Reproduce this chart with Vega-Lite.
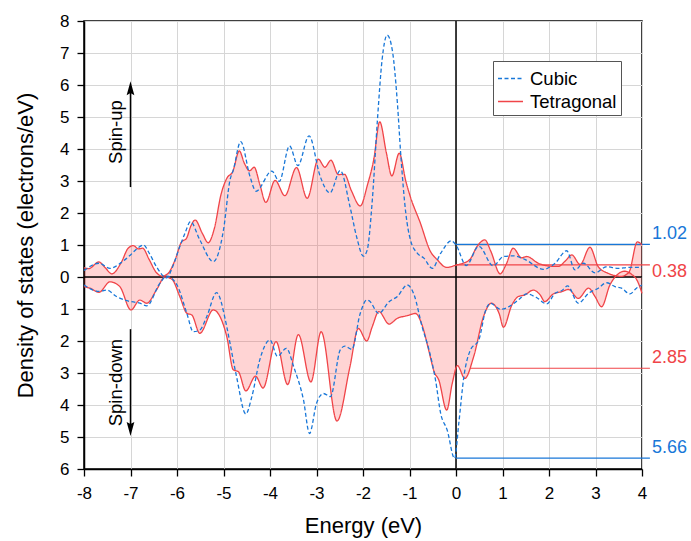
{
  "$schema": "https://vega.github.io/schema/vega-lite/v6.json",
  "width": 558,
  "height": 448,
  "autosize": {"type": "none"},
  "padding": {"left": 84, "top": 21, "right": 49, "bottom": 72},
  "background": "white",
  "config": {
    "font": "Liberation Sans",
    "view": {"stroke": "black", "strokeWidth": 1.5},
    "axis": {
      "labelFont": "Liberation Sans",
      "titleFont": "Liberation Sans",
      "labelFontSize": 17,
      "titleFontSize": 22,
      "titleFontWeight": "normal",
      "labelColor": "black",
      "titleColor": "black",
      "tickColor": "black",
      "tickSize": 7,
      "tickWidth": 1.3,
      "domainColor": "black",
      "domainWidth": 1.5,
      "gridColor": "#d6d6d6",
      "gridWidth": 1,
      "labelFlush": false,
      "labelOverlap": false
    },
    "legend": {
      "symbolType": "stroke",
      "symbolSize": 625,
      "symbolStrokeWidth": 1.3,
      "labelFont": "Liberation Sans",
      "labelFontSize": 18.5,
      "labelColor": "black",
      "strokeColor": "#555555",
      "fillColor": "white",
      "padding": 4,
      "rowPadding": 0,
      "labelOffset": 6
    }
  },
  "datasets": {
    "dos": [
      {"e":-8,"v":0.29,"s":"Tetragonal","spin":"up"},{"e":-7.9,"v":0.26,"s":"Tetragonal","spin":"up"},{"e":-7.68,"v":0.47,"s":"Tetragonal","spin":"up"},{"e":-7.55,"v":0.3,"s":"Tetragonal","spin":"up"},{"e":-7.4,"v":0.1,"s":"Tetragonal","spin":"up"},{"e":-7.2,"v":0.45,"s":"Tetragonal","spin":"up"},{"e":-7.05,"v":0.9,"s":"Tetragonal","spin":"up"},{"e":-6.94,"v":0.98,"s":"Tetragonal","spin":"up"},{"e":-6.83,"v":0.88,"s":"Tetragonal","spin":"up"},{"e":-6.74,"v":0.9,"s":"Tetragonal","spin":"up"},{"e":-6.6,"v":0.55,"s":"Tetragonal","spin":"up"},{"e":-6.45,"v":0.15,"s":"Tetragonal","spin":"up"},{"e":-6.32,"v":0.03,"s":"Tetragonal","spin":"up"},{"e":-6.2,"v":0.1,"s":"Tetragonal","spin":"up"},{"e":-6.05,"v":0.5,"s":"Tetragonal","spin":"up"},{"e":-5.9,"v":1.1,"s":"Tetragonal","spin":"up"},{"e":-5.8,"v":1.2,"s":"Tetragonal","spin":"up"},{"e":-5.7,"v":1.6,"s":"Tetragonal","spin":"up"},{"e":-5.61,"v":1.78,"s":"Tetragonal","spin":"up"},{"e":-5.45,"v":1.35,"s":"Tetragonal","spin":"up"},{"e":-5.33,"v":1.07,"s":"Tetragonal","spin":"up"},{"e":-5.2,"v":1.5,"s":"Tetragonal","spin":"up"},{"e":-5.05,"v":2.6,"s":"Tetragonal","spin":"up"},{"e":-4.93,"v":3.08,"s":"Tetragonal","spin":"up"},{"e":-4.8,"v":3.3,"s":"Tetragonal","spin":"up"},{"e":-4.66,"v":3.94,"s":"Tetragonal","spin":"up"},{"e":-4.55,"v":3.55,"s":"Tetragonal","spin":"up"},{"e":-4.44,"v":3.32,"s":"Tetragonal","spin":"up"},{"e":-4.34,"v":3.43,"s":"Tetragonal","spin":"up"},{"e":-4.22,"v":2.9,"s":"Tetragonal","spin":"up"},{"e":-4.09,"v":2.33,"s":"Tetragonal","spin":"up"},{"e":-3.89,"v":3.02,"s":"Tetragonal","spin":"up"},{"e":-3.68,"v":2.54,"s":"Tetragonal","spin":"up"},{"e":-3.43,"v":3.42,"s":"Tetragonal","spin":"up"},{"e":-3.2,"v":2.46,"s":"Tetragonal","spin":"up"},{"e":-2.96,"v":3.68,"s":"Tetragonal","spin":"up"},{"e":-2.82,"v":3.43,"s":"Tetragonal","spin":"up"},{"e":-2.69,"v":3.65,"s":"Tetragonal","spin":"up"},{"e":-2.53,"v":3.2,"s":"Tetragonal","spin":"up"},{"e":-2.4,"v":3.21,"s":"Tetragonal","spin":"up"},{"e":-2.25,"v":2.7,"s":"Tetragonal","spin":"up"},{"e":-2.06,"v":2.22,"s":"Tetragonal","spin":"up"},{"e":-1.9,"v":2.9,"s":"Tetragonal","spin":"up"},{"e":-1.77,"v":3.66,"s":"Tetragonal","spin":"up"},{"e":-1.64,"v":4.85,"s":"Tetragonal","spin":"up"},{"e":-1.5,"v":3.9,"s":"Tetragonal","spin":"up"},{"e":-1.38,"v":3.16,"s":"Tetragonal","spin":"up"},{"e":-1.22,"v":3.87,"s":"Tetragonal","spin":"up"},{"e":-1.08,"v":3.0,"s":"Tetragonal","spin":"up"},{"e":-0.98,"v":2.5,"s":"Tetragonal","spin":"up"},{"e":-0.77,"v":1.7,"s":"Tetragonal","spin":"up"},{"e":-0.55,"v":0.8,"s":"Tetragonal","spin":"up"},{"e":-0.41,"v":0.55,"s":"Tetragonal","spin":"up"},{"e":-0.2,"v":0.3,"s":"Tetragonal","spin":"up"},{"e":0,"v":0.37,"s":"Tetragonal","spin":"up"},{"e":0.13,"v":0.42,"s":"Tetragonal","spin":"up"},{"e":0.3,"v":0.55,"s":"Tetragonal","spin":"up"},{"e":0.45,"v":0.95,"s":"Tetragonal","spin":"up"},{"e":0.62,"v":1.16,"s":"Tetragonal","spin":"up"},{"e":0.75,"v":0.8,"s":"Tetragonal","spin":"up"},{"e":0.95,"v":0.1,"s":"Tetragonal","spin":"up"},{"e":1.08,"v":0.4,"s":"Tetragonal","spin":"up"},{"e":1.23,"v":0.9,"s":"Tetragonal","spin":"up"},{"e":1.41,"v":0.6,"s":"Tetragonal","spin":"up"},{"e":1.52,"v":0.64,"s":"Tetragonal","spin":"up"},{"e":1.77,"v":0.43,"s":"Tetragonal","spin":"up"},{"e":2.02,"v":0.34,"s":"Tetragonal","spin":"up"},{"e":2.2,"v":0.33,"s":"Tetragonal","spin":"up"},{"e":2.35,"v":0.5,"s":"Tetragonal","spin":"up"},{"e":2.49,"v":0.69,"s":"Tetragonal","spin":"up"},{"e":2.67,"v":0.39,"s":"Tetragonal","spin":"up"},{"e":2.88,"v":0.93,"s":"Tetragonal","spin":"up"},{"e":3.06,"v":0.32,"s":"Tetragonal","spin":"up"},{"e":3.28,"v":0.11,"s":"Tetragonal","spin":"up"},{"e":3.55,"v":0.02,"s":"Tetragonal","spin":"up"},{"e":3.72,"v":0.15,"s":"Tetragonal","spin":"up"},{"e":3.9,"v":1.1,"s":"Tetragonal","spin":"up"},{"e":4,"v":1.0,"s":"Tetragonal","spin":"up"},

      {"e":-8,"v":-0.3,"s":"Tetragonal","spin":"down"},{"e":-7.87,"v":-0.35,"s":"Tetragonal","spin":"down"},{"e":-7.68,"v":-0.48,"s":"Tetragonal","spin":"down"},{"e":-7.44,"v":-0.15,"s":"Tetragonal","spin":"down"},{"e":-7.23,"v":-0.3,"s":"Tetragonal","spin":"down"},{"e":-6.99,"v":-1.03,"s":"Tetragonal","spin":"down"},{"e":-6.8,"v":-0.72,"s":"Tetragonal","spin":"down"},{"e":-6.65,"v":-0.82,"s":"Tetragonal","spin":"down"},{"e":-6.44,"v":-0.4,"s":"Tetragonal","spin":"down"},{"e":-6.26,"v":0.0,"s":"Tetragonal","spin":"down"},{"e":-6.11,"v":-0.07,"s":"Tetragonal","spin":"down"},{"e":-5.94,"v":-0.61,"s":"Tetragonal","spin":"down"},{"e":-5.79,"v":-1.13,"s":"Tetragonal","spin":"down"},{"e":-5.68,"v":-1.19,"s":"Tetragonal","spin":"down"},{"e":-5.51,"v":-1.76,"s":"Tetragonal","spin":"down"},{"e":-5.22,"v":-1.03,"s":"Tetragonal","spin":"down"},{"e":-4.93,"v":-1.86,"s":"Tetragonal","spin":"down"},{"e":-4.79,"v":-2.9,"s":"Tetragonal","spin":"down"},{"e":-4.68,"v":-2.96,"s":"Tetragonal","spin":"down"},{"e":-4.52,"v":-3.56,"s":"Tetragonal","spin":"down"},{"e":-4.31,"v":-3.1,"s":"Tetragonal","spin":"down"},{"e":-4.15,"v":-3.47,"s":"Tetragonal","spin":"down"},{"e":-3.87,"v":-2.02,"s":"Tetragonal","spin":"down"},{"e":-3.62,"v":-3.36,"s":"Tetragonal","spin":"down"},{"e":-3.39,"v":-1.8,"s":"Tetragonal","spin":"down"},{"e":-3.12,"v":-3.28,"s":"Tetragonal","spin":"down"},{"e":-2.9,"v":-1.71,"s":"Tetragonal","spin":"down"},{"e":-2.56,"v":-4.5,"s":"Tetragonal","spin":"down"},{"e":-2.28,"v":-2.8,"s":"Tetragonal","spin":"down"},{"e":-2.1,"v":-1.61,"s":"Tetragonal","spin":"down"},{"e":-1.92,"v":-2.0,"s":"Tetragonal","spin":"down"},{"e":-1.8,"v":-1.55,"s":"Tetragonal","spin":"down"},{"e":-1.66,"v":-1.08,"s":"Tetragonal","spin":"down"},{"e":-1.44,"v":-1.47,"s":"Tetragonal","spin":"down"},{"e":-1.26,"v":-1.29,"s":"Tetragonal","spin":"down"},{"e":-1.05,"v":-1.21,"s":"Tetragonal","spin":"down"},{"e":-0.87,"v":-1.14,"s":"Tetragonal","spin":"down"},{"e":-0.73,"v":-1.5,"s":"Tetragonal","spin":"down"},{"e":-0.58,"v":-2.33,"s":"Tetragonal","spin":"down"},{"e":-0.47,"v":-2.96,"s":"Tetragonal","spin":"down"},{"e":-0.37,"v":-3.22,"s":"Tetragonal","spin":"down"},{"e":-0.2,"v":-4.16,"s":"Tetragonal","spin":"down"},{"e":-0.08,"v":-3.32,"s":"Tetragonal","spin":"down"},{"e":0.03,"v":-2.77,"s":"Tetragonal","spin":"down"},{"e":0.19,"v":-3.17,"s":"Tetragonal","spin":"down"},{"e":0.38,"v":-2.49,"s":"Tetragonal","spin":"down"},{"e":0.6,"v":-1.2,"s":"Tetragonal","spin":"down"},{"e":0.76,"v":-0.82,"s":"Tetragonal","spin":"down"},{"e":0.93,"v":-1.15,"s":"Tetragonal","spin":"down"},{"e":1.02,"v":-1.57,"s":"Tetragonal","spin":"down"},{"e":1.2,"v":-0.88,"s":"Tetragonal","spin":"down"},{"e":1.34,"v":-0.61,"s":"Tetragonal","spin":"down"},{"e":1.48,"v":-0.56,"s":"Tetragonal","spin":"down"},{"e":1.66,"v":-0.41,"s":"Tetragonal","spin":"down"},{"e":1.81,"v":-0.56,"s":"Tetragonal","spin":"down"},{"e":1.91,"v":-0.77,"s":"Tetragonal","spin":"down"},{"e":2.09,"v":-0.53,"s":"Tetragonal","spin":"down"},{"e":2.27,"v":-0.46,"s":"Tetragonal","spin":"down"},{"e":2.42,"v":-0.39,"s":"Tetragonal","spin":"down"},{"e":2.63,"v":-0.67,"s":"Tetragonal","spin":"down"},{"e":2.85,"v":-0.35,"s":"Tetragonal","spin":"down"},{"e":2.99,"v":-0.61,"s":"Tetragonal","spin":"down"},{"e":3.13,"v":-0.93,"s":"Tetragonal","spin":"down"},{"e":3.31,"v":-0.25,"s":"Tetragonal","spin":"down"},{"e":3.49,"v":0.1,"s":"Tetragonal","spin":"down"},{"e":3.62,"v":0.18,"s":"Tetragonal","spin":"down"},{"e":3.78,"v":0.08,"s":"Tetragonal","spin":"down"},{"e":3.9,"v":-0.12,"s":"Tetragonal","spin":"down"},{"e":4,"v":-0.51,"s":"Tetragonal","spin":"down"},

      {"e":-8,"v":0.2,"s":"Cubic","spin":"up"},{"e":-7.68,"v":0.43,"s":"Cubic","spin":"up"},{"e":-7.44,"v":0.27,"s":"Cubic","spin":"up"},{"e":-7.2,"v":0.45,"s":"Cubic","spin":"up"},{"e":-7.0,"v":0.69,"s":"Cubic","spin":"up"},{"e":-6.85,"v":0.9,"s":"Cubic","spin":"up"},{"e":-6.72,"v":1.0,"s":"Cubic","spin":"up"},{"e":-6.6,"v":0.75,"s":"Cubic","spin":"up"},{"e":-6.44,"v":0.32,"s":"Cubic","spin":"up"},{"e":-6.22,"v":-0.03,"s":"Cubic","spin":"up"},{"e":-6.1,"v":0.3,"s":"Cubic","spin":"up"},{"e":-5.94,"v":0.95,"s":"Cubic","spin":"up"},{"e":-5.83,"v":1.36,"s":"Cubic","spin":"up"},{"e":-5.71,"v":1.73,"s":"Cubic","spin":"up"},{"e":-5.51,"v":1.16,"s":"Cubic","spin":"up"},{"e":-5.22,"v":0.48,"s":"Cubic","spin":"up"},{"e":-5.0,"v":1.47,"s":"Cubic","spin":"up"},{"e":-4.86,"v":3.03,"s":"Cubic","spin":"up"},{"e":-4.79,"v":3.34,"s":"Cubic","spin":"up"},{"e":-4.63,"v":4.23,"s":"Cubic","spin":"up"},{"e":-4.43,"v":3.14,"s":"Cubic","spin":"up"},{"e":-4.3,"v":2.68,"s":"Cubic","spin":"up"},{"e":-3.96,"v":3.31,"s":"Cubic","spin":"up"},{"e":-3.8,"v":2.99,"s":"Cubic","spin":"up"},{"e":-3.58,"v":4.1,"s":"Cubic","spin":"up"},{"e":-3.4,"v":3.48,"s":"Cubic","spin":"up"},{"e":-3.16,"v":4.41,"s":"Cubic","spin":"up"},{"e":-2.92,"v":3.14,"s":"Cubic","spin":"up"},{"e":-2.71,"v":2.63,"s":"Cubic","spin":"up"},{"e":-2.49,"v":3.33,"s":"Cubic","spin":"up"},{"e":-2.28,"v":2.2,"s":"Cubic","spin":"up"},{"e":-2.14,"v":1.27,"s":"Cubic","spin":"up"},{"e":-1.99,"v":0.65,"s":"Cubic","spin":"up"},{"e":-1.91,"v":0.84,"s":"Cubic","spin":"up"},{"e":-1.8,"v":2.4,"s":"Cubic","spin":"up"},{"e":-1.69,"v":4.9,"s":"Cubic","spin":"up"},{"e":-1.59,"v":6.78,"s":"Cubic","spin":"up"},{"e":-1.48,"v":7.56,"s":"Cubic","spin":"up"},{"e":-1.37,"v":7.09,"s":"Cubic","spin":"up"},{"e":-1.26,"v":5.43,"s":"Cubic","spin":"up"},{"e":-1.19,"v":3.87,"s":"Cubic","spin":"up"},{"e":-1.08,"v":2.0,"s":"Cubic","spin":"up"},{"e":-0.98,"v":1.16,"s":"Cubic","spin":"up"},{"e":-0.83,"v":0.74,"s":"Cubic","spin":"up"},{"e":-0.69,"v":0.59,"s":"Cubic","spin":"up"},{"e":-0.51,"v":0.27,"s":"Cubic","spin":"up"},{"e":-0.33,"v":0.74,"s":"Cubic","spin":"up"},{"e":-0.1,"v":1.13,"s":"Cubic","spin":"up"},{"e":0,"v":1.0,"s":"Cubic","spin":"up"},{"e":0.22,"v":0.36,"s":"Cubic","spin":"up"},{"e":0.49,"v":0.96,"s":"Cubic","spin":"up"},{"e":0.8,"v":0.35,"s":"Cubic","spin":"up"},{"e":1.02,"v":0.64,"s":"Cubic","spin":"up"},{"e":1.23,"v":0.66,"s":"Cubic","spin":"up"},{"e":1.48,"v":0.55,"s":"Cubic","spin":"up"},{"e":1.88,"v":0.24,"s":"Cubic","spin":"up"},{"e":2.13,"v":0.43,"s":"Cubic","spin":"up"},{"e":2.38,"v":0.82,"s":"Cubic","spin":"up"},{"e":2.56,"v":0.22,"s":"Cubic","spin":"up"},{"e":2.74,"v":0.43,"s":"Cubic","spin":"up"},{"e":2.99,"v":0.13,"s":"Cubic","spin":"up"},{"e":3.24,"v":0.32,"s":"Cubic","spin":"up"},{"e":3.49,"v":0.27,"s":"Cubic","spin":"up"},{"e":3.71,"v":0.3,"s":"Cubic","spin":"up"},{"e":4,"v":0.3,"s":"Cubic","spin":"up"},

      {"e":-8,"v":-0.25,"s":"Cubic","spin":"down"},{"e":-7.8,"v":-0.41,"s":"Cubic","spin":"down"},{"e":-7.68,"v":-0.45,"s":"Cubic","spin":"down"},{"e":-7.51,"v":-0.41,"s":"Cubic","spin":"down"},{"e":-7.3,"v":-0.61,"s":"Cubic","spin":"down"},{"e":-7.08,"v":-0.74,"s":"Cubic","spin":"down"},{"e":-6.8,"v":-0.82,"s":"Cubic","spin":"down"},{"e":-6.65,"v":-0.9,"s":"Cubic","spin":"down"},{"e":-6.37,"v":-0.2,"s":"Cubic","spin":"down"},{"e":-6.22,"v":0.03,"s":"Cubic","spin":"down"},{"e":-6.0,"v":-0.25,"s":"Cubic","spin":"down"},{"e":-5.79,"v":-1.13,"s":"Cubic","spin":"down"},{"e":-5.65,"v":-1.71,"s":"Cubic","spin":"down"},{"e":-5.51,"v":-1.66,"s":"Cubic","spin":"down"},{"e":-5.36,"v":-1.24,"s":"Cubic","spin":"down"},{"e":-5.15,"v":-0.49,"s":"Cubic","spin":"down"},{"e":-4.93,"v":-1.55,"s":"Cubic","spin":"down"},{"e":-4.86,"v":-2.07,"s":"Cubic","spin":"down"},{"e":-4.72,"v":-3.11,"s":"Cubic","spin":"down"},{"e":-4.52,"v":-4.28,"s":"Cubic","spin":"down"},{"e":-4.39,"v":-3.74,"s":"Cubic","spin":"down"},{"e":-4.22,"v":-2.59,"s":"Cubic","spin":"down"},{"e":-4.0,"v":-1.97,"s":"Cubic","spin":"down"},{"e":-3.84,"v":-2.48,"s":"Cubic","spin":"down"},{"e":-3.65,"v":-2.23,"s":"Cubic","spin":"down"},{"e":-3.48,"v":-2.85,"s":"Cubic","spin":"down"},{"e":-3.28,"v":-3.84,"s":"Cubic","spin":"down"},{"e":-3.15,"v":-4.89,"s":"Cubic","spin":"down"},{"e":-3.0,"v":-3.95,"s":"Cubic","spin":"down"},{"e":-2.85,"v":-3.64,"s":"Cubic","spin":"down"},{"e":-2.7,"v":-3.74,"s":"Cubic","spin":"down"},{"e":-2.49,"v":-2.28,"s":"Cubic","spin":"down"},{"e":-2.39,"v":-2.16,"s":"Cubic","spin":"down"},{"e":-2.24,"v":-2.26,"s":"Cubic","spin":"down"},{"e":-2.06,"v":-1.14,"s":"Cubic","spin":"down"},{"e":-1.92,"v":-0.72,"s":"Cubic","spin":"down"},{"e":-1.87,"v":-0.74,"s":"Cubic","spin":"down"},{"e":-1.66,"v":-1.14,"s":"Cubic","spin":"down"},{"e":-1.44,"v":-0.77,"s":"Cubic","spin":"down"},{"e":-1.26,"v":-0.61,"s":"Cubic","spin":"down"},{"e":-1.05,"v":-0.25,"s":"Cubic","spin":"down"},{"e":-0.9,"v":-0.56,"s":"Cubic","spin":"down"},{"e":-0.73,"v":-1.55,"s":"Cubic","spin":"down"},{"e":-0.58,"v":-2.28,"s":"Cubic","spin":"down"},{"e":-0.44,"v":-3.22,"s":"Cubic","spin":"down"},{"e":-0.33,"v":-4.26,"s":"Cubic","spin":"down"},{"e":-0.19,"v":-4.78,"s":"Cubic","spin":"down"},{"e":-0.03,"v":-5.67,"s":"Cubic","spin":"down"},{"e":0.06,"v":-4.57,"s":"Cubic","spin":"down"},{"e":0.17,"v":-3.11,"s":"Cubic","spin":"down"},{"e":0.31,"v":-2.28,"s":"Cubic","spin":"down"},{"e":0.49,"v":-1.97,"s":"Cubic","spin":"down"},{"e":0.64,"v":-1.03,"s":"Cubic","spin":"down"},{"e":0.74,"v":-0.82,"s":"Cubic","spin":"down"},{"e":0.96,"v":-1.01,"s":"Cubic","spin":"down"},{"e":1.16,"v":-0.91,"s":"Cubic","spin":"down"},{"e":1.34,"v":-0.72,"s":"Cubic","spin":"down"},{"e":1.52,"v":-0.53,"s":"Cubic","spin":"down"},{"e":1.73,"v":-0.64,"s":"Cubic","spin":"down"},{"e":1.95,"v":-0.84,"s":"Cubic","spin":"down"},{"e":2.13,"v":-0.51,"s":"Cubic","spin":"down"},{"e":2.27,"v":-0.43,"s":"Cubic","spin":"down"},{"e":2.4,"v":-0.28,"s":"Cubic","spin":"down"},{"e":2.63,"v":-0.82,"s":"Cubic","spin":"down"},{"e":2.85,"v":-0.51,"s":"Cubic","spin":"down"},{"e":3.06,"v":-0.35,"s":"Cubic","spin":"down"},{"e":3.24,"v":-0.18,"s":"Cubic","spin":"down"},{"e":3.42,"v":-0.3,"s":"Cubic","spin":"down"},{"e":3.56,"v":-0.35,"s":"Cubic","spin":"down"},{"e":3.74,"v":-0.53,"s":"Cubic","spin":"down"},{"e":3.88,"v":-0.35,"s":"Cubic","spin":"down"},{"e":4,"v":-0.25,"s":"Cubic","spin":"down"}
    ],
    "refs": [
      {"e":0,"e2":4.17,"v":1.02,"s":"Cubic","label":"1.02","side":"above"},
      {"e":0,"e2":4.17,"v":0.38,"s":"Tetragonal","label":"0.38","side":"below"},
      {"e":0.3,"e2":4.17,"v":-2.85,"s":"Tetragonal","label":"2.85","side":"above"},
      {"e":0,"e2":4.17,"v":-5.66,"s":"Cubic","label":"5.66","side":"above"}
    ],
    "arrows": [
      {"e":-7,"v":2.81,"v2":5.9,"dir":"up"},
      {"e":-7,"v":-1.63,"v2":-4.75,"dir":"down"}
    ],
    "spinText": [
      {"e":-7.32,"v":4.53,"label":"Spin-up"},
      {"e":-7.32,"v":-3.3,"label":"Spin-down"}
    ]
  },
  "layer": [
    {
      "data": {"name": "dos"},
      "transform": [{"filter": "datum.s == 'Tetragonal'"}],
      "mark": {"type": "area", "interpolate": "monotone", "fill": "#ff3a3a", "opacity": 0.22},
      "encoding": {
        "x": {"field": "e", "type": "quantitative",
              "scale": {"domain": [-8, 4], "nice": false, "zero": false},
              "axis": {"title": "Energy (eV)", "values": [-8,-7,-6,-5,-4,-3,-2,-1,0,1,2,3,4],
                       "labelExpr": "'' + datum.value", "labelPadding": 9, "titlePadding": 14, "labelOverlap": false}},
        "y": {"field": "v", "type": "quantitative",
              "scale": {"domain": [-6, 8], "nice": false, "zero": false},
              "axis": {"title": "Density of states (electrons/eV)", "values": [-6,-5,-4,-3,-2,-1,0,1,2,3,4,5,6,7,8],
                       "tickCount": 15, "labelExpr": "'' + abs(datum.value)", "labelPadding": 8, "titlePadding": 22,
                       "labelOverlap": false}},
        "y2": {"datum": 0},
        "detail": {"field": "spin"}
      }
    },
    {
      "data": {"values": [{}]},
      "mark": {"type": "rule", "color": "black", "strokeWidth": 1.5},
      "encoding": {"y": {"datum": 0}}
    },
    {
      "data": {"values": [{}]},
      "mark": {"type": "rule", "color": "black", "strokeWidth": 1.5},
      "encoding": {"x": {"datum": 0}}
    },
    {
      "data": {"name": "refs"},
      "mark": {"type": "rule", "strokeWidth": 1.1},
      "encoding": {
        "x": {"field": "e", "type": "quantitative"},
        "x2": {"field": "e2"},
        "y": {"field": "v", "type": "quantitative"},
        "color": {"field": "s", "type": "nominal"}
      }
    },
    {
      "data": {"name": "dos"},
      "mark": {"type": "line", "interpolate": "monotone", "strokeWidth": 1.3},
      "encoding": {
        "x": {"field": "e", "type": "quantitative"},
        "y": {"field": "v", "type": "quantitative",
              "axis": {"title": "Density of states (electrons/eV)", "values": [-6,-5,-4,-3,-2,-1,0,1,2,3,4,5,6,7,8],
                       "tickCount": 15, "labelExpr": "'' + abs(datum.value)", "labelPadding": 8, "titlePadding": 22,
                       "labelOverlap": false}},
        "color": {"field": "s", "type": "nominal",
                  "scale": {"domain": ["Cubic", "Tetragonal"], "range": ["#1877d8", "#f04448"]},
                  "legend": {"title": null, "orient": "none", "legendX": 409, "legendY": 40}},
        "strokeDash": {"field": "s", "type": "nominal",
                       "scale": {"domain": ["Cubic", "Tetragonal"], "range": [[4, 2.5], [1, 0]]},
                       "legend": {"title": null, "orient": "none", "legendX": 409, "legendY": 40}},
        "detail": {"field": "spin"}
      }
    },
    {
      "data": {"name": "refs"},
      "transform": [{"filter": "datum.side == 'above'"}],
      "mark": {"type": "text", "align": "left", "baseline": "middle", "dx": 2, "dy": -10, "fontSize": 18},
      "encoding": {
        "x": {"field": "e2", "type": "quantitative"},
        "y": {"field": "v", "type": "quantitative"},
        "text": {"field": "label"},
        "color": {"field": "s", "type": "nominal"}
      }
    },
    {
      "data": {"name": "refs"},
      "transform": [{"filter": "datum.side == 'below'"}],
      "mark": {"type": "text", "align": "left", "baseline": "middle", "dx": 2, "dy": 7, "fontSize": 18},
      "encoding": {
        "x": {"field": "e2", "type": "quantitative"},
        "y": {"field": "v", "type": "quantitative"},
        "text": {"field": "label"},
        "color": {"field": "s", "type": "nominal"}
      }
    },
    {
      "data": {"name": "arrows"},
      "mark": {"type": "rule", "color": "black", "strokeWidth": 1.5},
      "encoding": {
        "x": {"field": "e", "type": "quantitative"},
        "y": {"field": "v", "type": "quantitative"},
        "y2": {"field": "v2"}
      }
    },
    {
      "data": {"name": "arrows"},
      "mark": {"type": "point", "filled": true, "color": "black", "size": 196, "opacity": 1},
      "encoding": {
        "x": {"field": "e", "type": "quantitative"},
        "y": {"field": "v2", "type": "quantitative"},
        "shape": {"field": "dir", "type": "nominal",
                  "scale": {"domain": ["up", "down"], "range": ["M0,-1L-0.55,1L0,0.7L0.55,1Z", "M0,1L-0.55,-1L0,-0.7L0.55,-1Z"]},
                  "legend": null}
      }
    },
    {
      "data": {"name": "spinText"},
      "mark": {"type": "text", "angle": 270, "align": "center", "baseline": "middle", "fontSize": 18.5, "color": "black"},
      "encoding": {
        "x": {"field": "e", "type": "quantitative"},
        "y": {"field": "v", "type": "quantitative"},
        "text": {"field": "label"}
      }
    }
  ]
}
